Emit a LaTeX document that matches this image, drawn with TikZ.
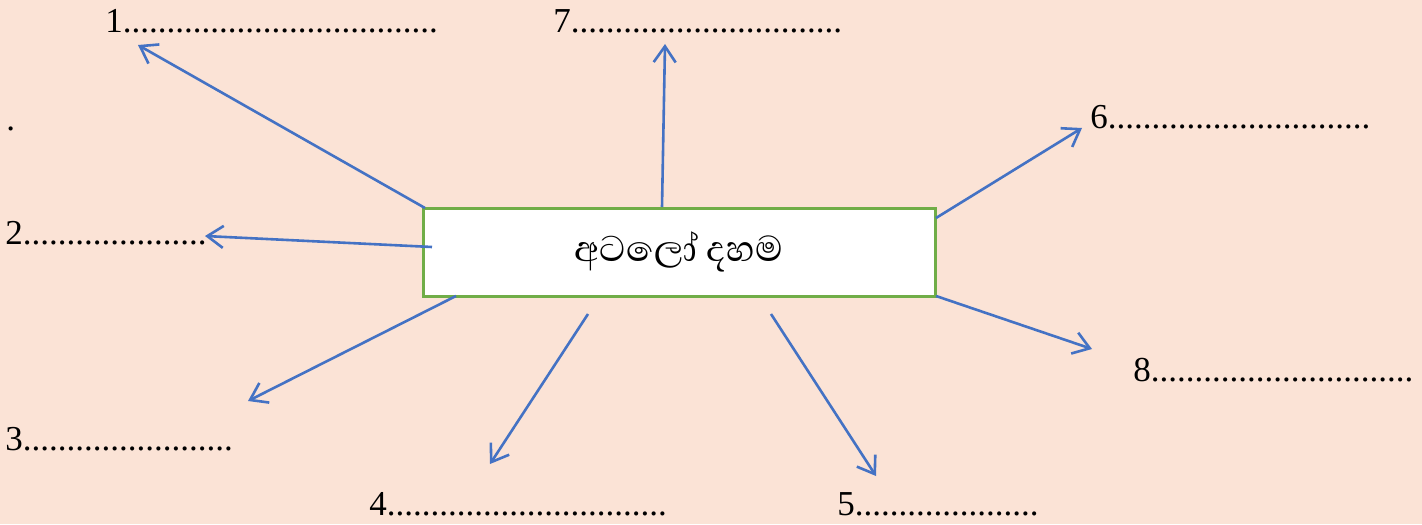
\documentclass[tikz,border=0pt]{standalone}
\usepackage{fontspec}
\setmainfont{Liberation Serif}
\newfontfamily\sinhala[Script=Sinhala]{Abhaya Libre}
\usetikzlibrary{arrows.meta}
\definecolor{bg}{HTML}{FBE3D6}
\definecolor{arr}{HTML}{4472C4}
\definecolor{grn}{HTML}{70AD47}
\newcommand{\dotrow}[1]{\foreach \i in {1,...,#1}{.}}
\begin{document}
\begin{tikzpicture}[x=0.5pt,y=-0.5pt,
  lbl/.style={anchor=base west, inner sep=0pt, font=\fontsize{17.5}{20}\selectfont},
  conn/.style={draw=arr, line width=1.3pt, -{Straight Barb[length=8pt,width=11pt]}},
  mainbox/.style={draw=grn, fill=white, line width=1.5pt, minimum width=256pt, minimum height=44pt, inner sep=0pt}]
\fill[bg] (0,0) rectangle (1422,524);
\useasboundingbox (0,0) rectangle (1422,524);
\node[mainbox] (main) at (679,252) {\sinhala\fontsize{23}{26}\selectfont අටලෝ දහම};
% labels
\node[lbl] (l1) at (105,33) {1\dotrow{36}};
\node[lbl] (l7) at (553,33) {7\dotrow{31}};
\node[lbl] (l6) at (1090,128) {6\dotrow{30}};
\node[lbl] (l2) at (5,244) {2\dotrow{21}};
\node[lbl] (l8) at (1133,381) {8\dotrow{30}};
\node[lbl] (l3) at (5,450) {3\dotrow{24}};
\node[lbl] (l4) at (369,515) {4\dotrow{32}};
\node[lbl] (l5) at (837,515) {5\dotrow{21}};
\node[lbl] (dot) at (6,130) {.};
% connector ends
\coordinate (s1) at (425,208); \coordinate (t1) at (138,45);
\coordinate (s7) at (662,207); \coordinate (t7) at (665,44);
\coordinate (s6) at (936,218); \coordinate (t6) at (1082,128);
\coordinate (s2) at (432,247); \coordinate (t2) at (205,236);
\coordinate (s3) at (456,296); \coordinate (t3) at (248,401);
\coordinate (s4) at (588,314); \coordinate (t4) at (490,464);
\coordinate (s5) at (771,314); \coordinate (t5) at (876,476);
\coordinate (s8) at (936,296); \coordinate (t8) at (1092,349);
\foreach \k in {1,...,8}{\draw[conn] (s\k) -- (t\k);}
\end{tikzpicture}
\end{document}
